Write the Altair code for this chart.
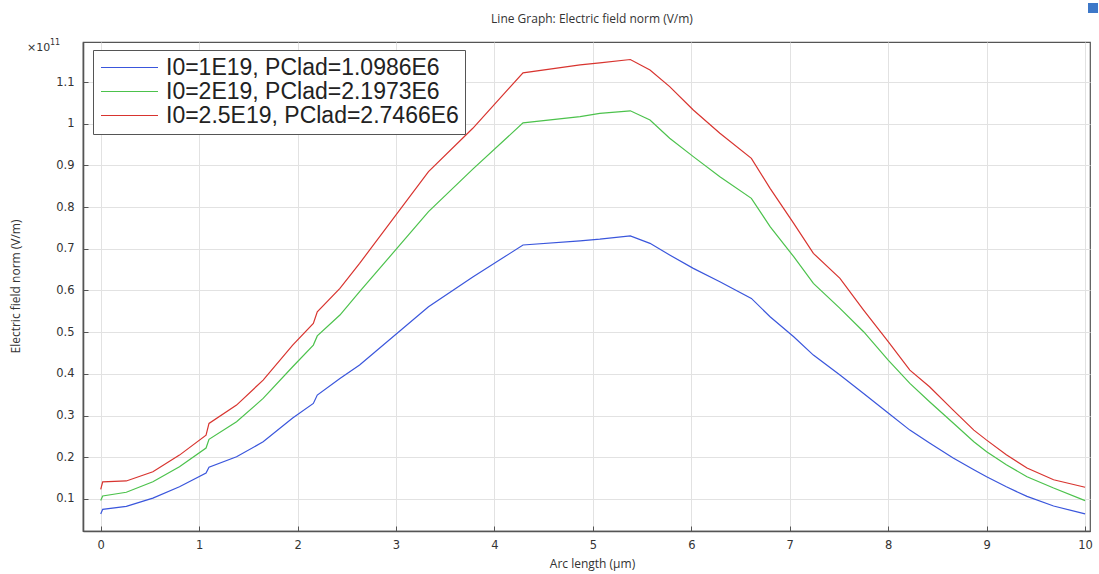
import altair as alt
import pandas as pd

# ---- data (values in units of 1e11 V/m) ----
x_um = [0, 0.02, 0.26, 0.53, 0.80, 1.07, 1.10, 1.38, 1.65, 1.95, 2.16, 2.20, 2.43, 2.63,
        3.33, 3.78, 4.29, 4.87, 5.07, 5.38, 5.58, 5.78, 6.02, 6.29, 6.61, 6.80, 7.04,
        7.24, 7.51, 7.75, 8.0, 8.22, 8.42, 8.66, 8.87, 9.0, 9.2, 9.41, 9.68, 10.0]

e_blue = [0.064, 0.075, 0.082, 0.102, 0.129, 0.162, 0.176, 0.201, 0.237, 0.294, 0.329, 0.349,
          0.389, 0.421, 0.561, 0.632, 0.709, 0.719, 0.723, 0.731, 0.713, 0.685, 0.653, 0.621,
          0.581, 0.537, 0.489, 0.445, 0.397, 0.353, 0.306, 0.265, 0.234, 0.198, 0.170, 0.153,
          0.129, 0.106, 0.083, 0.064]

e_green = [0.096, 0.107, 0.116, 0.141, 0.177, 0.222, 0.243, 0.285, 0.341, 0.417, 0.469, 0.491,
           0.541, 0.597, 0.789, 0.891, 1.002, 1.017, 1.025, 1.031, 1.009, 0.965, 0.921, 0.873,
           0.821, 0.753, 0.681, 0.617, 0.557, 0.501, 0.433, 0.377, 0.333, 0.282, 0.237, 0.213,
           0.182, 0.153, 0.126, 0.096]

e_red = [0.123, 0.141, 0.143, 0.165, 0.205, 0.253, 0.281, 0.325, 0.385, 0.469, 0.521, 0.549,
         0.605, 0.665, 0.885, 0.989, 1.122, 1.141, 1.146, 1.154, 1.129, 1.089, 1.033, 0.977,
         0.917, 0.845, 0.761, 0.689, 0.629, 0.553, 0.477, 0.409, 0.369, 0.313, 0.265, 0.241,
         0.206, 0.174, 0.146, 0.128]

series_labels = ["I0=1E19, PClad=1.0986E6",
                 "I0=2E19, PClad=2.1973E6",
                 "I0=2.5E19, PClad=2.7466E6"]
series_colors = ["#3a56dc", "#4cc24c", "#d8342f"]

x_ticks = [0, 1, 2, 3, 4, 5, 6, 7, 8, 9, 10]
y_ticks = [0.1, 0.2, 0.3, 0.4, 0.5, 0.6, 0.7, 0.8, 0.9, 1.0, 1.1]

chart_title = ["Line Graph: Electric field norm (V/m)"]
x_title = "Arc length (µm)"
y_title = "Electric field norm (V/m)"

rows = []
for lab, vals in zip(series_labels, [e_blue, e_green, e_red]):
    for i, (xv, v) in enumerate(zip(x_um, vals)):
        rows.append({"series": lab, "x": xv, "v": v, "o": i})
df = pd.DataFrame(rows)

W, H = 1007, 489

inward = alt.ExprRef(expr="-5")

lines = alt.Chart(df).mark_line(strokeWidth=1.2).encode(
    x=alt.X("x:Q",
            scale=alt.Scale(domain=[-0.18, 10.05], nice=False, zero=False),
            axis=alt.Axis(values=x_ticks, title=x_title, format="d",
                          tickSize=inward, labelPadding=13,
                          titleX=509, titleY=32, titleBaseline="middle",
                          titleAlign="center")),
    y=alt.Y("v:Q",
            scale=alt.Scale(domain=[0.023, 1.196], nice=False, zero=False),
            axis=alt.Axis(values=y_ticks, title=y_title, format="~g",
                          tickSize=inward, labelPadding=14,
                          titleX=-68, titleY=244, titleAngle=270,
                          titleBaseline="middle", titleAlign="center")),
    color=alt.Color("series:N",
                    scale=alt.Scale(domain=series_labels, range=series_colors),
                    legend=alt.Legend(title=None, orient="none", legendX=10, legendY=8,
                                      fillColor="white", strokeColor="#555",
                                      padding=6, rowPadding=0,
                                      symbolType="M-1,0H5", symbolSize=361,
                                      symbolStrokeWidth=1.2, labelOffset=44,
                                      labelFontSize=23, labelFont="Liberation Sans",
                                      labelColor="#222", labelLimit=500)),
    order="o:Q",
)

title_df = pd.DataFrame({"t": chart_title})
title_mark = alt.Chart(title_df).mark_text(align="center", baseline="middle", fontSize=12,
                                           font="Open Sans", color="#333").encode(
    x=alt.value(509), y=alt.value(-23), text="t:N")

exp_df = pd.DataFrame({"t": ["×10"]})
exp_base = alt.Chart(exp_df).mark_text(align="left", baseline="middle", fontSize=11,
                                       font="DejaVu Sans", color="#333").encode(
    x=alt.value(-56), y=alt.value(6), text="t:N")
sup_df = pd.DataFrame({"t": ["11"]})
exp_sup = alt.Chart(sup_df).mark_text(align="left", baseline="middle", fontSize=8,
                                      font="DejaVu Sans", color="#333").encode(
    x=alt.value(-33), y=alt.value(1), text="t:N")

icon_df = pd.DataFrame({"k": ["icon"]})
icon = alt.Chart(icon_df).mark_square(size=100, color="#3d78c8", opacity=1).encode(
    x=alt.value(1010), y=alt.value(-34))

chart = alt.layer(lines, title_mark, exp_base, exp_sup, icon).properties(
    width=W, height=H,
    padding={"left": 83, "top": 42, "right": 9, "bottom": 43},
    autosize=alt.AutoSizeParams(type="none"),
).configure_view(
    stroke="#555", strokeWidth=1.2
).configure_axis(
    gridColor="#e2e2e2", gridWidth=1,
    domainColor="#555", domainWidth=1.6,
    tickColor="#555", tickWidth=1,
    labelFont="DejaVu Sans", labelFontSize=11.5, labelColor="#333",
    titleFont="Open Sans", titleFontSize=12, titleFontWeight="normal", titleColor="#333",
).configure_legend(
    strokeWidth=1
)

chart.save("out.html", embed_options={"renderer": "svg", "actions": False})
